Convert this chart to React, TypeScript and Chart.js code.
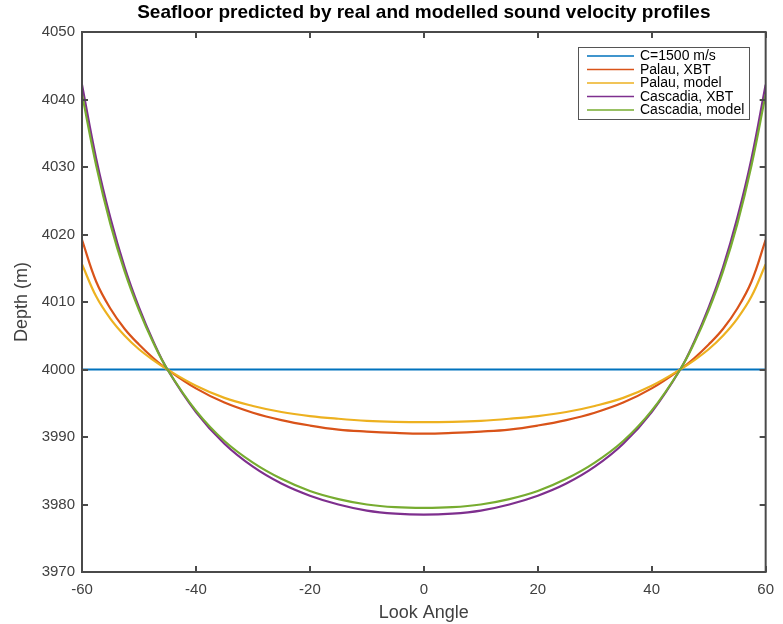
import React, { useEffect, useRef } from "react";
import { Chart, registerables } from "chart.js";

Chart.register(...registerables);

const titleText = "Seafloor predicted by real and modelled sound velocity profiles";
const xLabel = "Look Angle";
const yLabel = "Depth (m)";

const angles = [-60, -57.5, -55, -52.5, -50, -47.5, -45, -40, -35, -30, -25, -20, -15, -10, -5, 0, 5, 10, 15, 20, 25, 30, 35, 40, 45, 47.5, 50, 52.5, 55, 57.5, 60];

const constC = [4000, 4000, 4000, 4000, 4000, 4000, 4000, 4000, 4000, 4000, 4000, 4000, 4000, 4000, 4000, 4000, 4000, 4000, 4000, 4000, 4000, 4000, 4000, 4000, 4000, 4000, 4000, 4000, 4000, 4000, 4000];
const palauXBT = [4019.2, 4013.0, 4009.0, 4006.0, 4003.7, 4001.7, 4000, 3997.2, 3995.1, 3993.6, 3992.5, 3991.7, 3991.1, 3990.8, 3990.6, 3990.5, 3990.6, 3990.8, 3991.1, 3991.7, 3992.5, 3993.6, 3995.1, 3997.2, 4000, 4001.7, 4003.7, 4006.0, 4009.0, 4013.0, 4019.2];
const palauModel = [4015.6, 4010.8, 4007.5, 4005.0, 4003.0, 4001.4, 4000, 3997.6, 3995.8, 3994.6, 3993.7, 3993.1, 3992.7, 3992.4, 3992.25, 3992.2, 3992.25, 3992.4, 3992.7, 3993.1, 3993.7, 3994.6, 3995.8, 3997.6, 4000, 4001.4, 4003.0, 4005.0, 4007.5, 4010.8, 4015.6];
const cascadiaXBT = [4042.2, 4031.2, 4022.4, 4015.1, 4009.2, 4004.2, 4000, 3993.7, 3989.0, 3985.6, 3983.1, 3981.3, 3980.0, 3979.1, 3978.65, 3978.5, 3978.65, 3979.1, 3980.0, 3981.3, 3983.1, 3985.6, 3989.0, 3993.7, 4000, 4004.2, 4009.2, 4015.1, 4022.4, 4031.2, 4042.2];
const cascadiaModel = [4040.8, 4030.2, 4021.5, 4014.5, 4008.8, 4004.0, 4000, 3993.9, 3989.4, 3986.2, 3983.8, 3982.0, 3980.8, 3980.0, 3979.6, 3979.5, 3979.6, 3980.0, 3980.8, 3982.0, 3983.8, 3986.2, 3989.4, 3993.9, 4000, 4004.0, 4008.8, 4014.5, 4021.5, 4030.2, 4040.8];

const seriesNames = ["C=1500 m/s", "Palau, XBT", "Palau, model", "Cascadia, XBT", "Cascadia, model"];
const seriesValues = [constC, palauXBT, palauModel, cascadiaXBT, cascadiaModel];
const seriesColors = ["#0072BD", "#D95319", "#EDB120", "#7E2F8E", "#77AC30"];

const FONT = "'Liberation Sans', Arial, Helvetica, sans-serif";
const AXIS_COLOR = "#4a4a4a";
const TEXT_COLOR = "#404040";

const framePlugin = {
  id: "matlabFrame",
  afterDatasetsDraw(chart: any) {
    const { ctx, chartArea, scales } = chart;
    const { left, right, top, bottom } = chartArea;
    const x = scales.x;
    const y = scales.y;
    ctx.save();
    ctx.strokeStyle = AXIS_COLOR;
    ctx.lineWidth = 2;
    ctx.beginPath();
    const tl = 6;
    x.ticks.forEach((t: any) => {
      const px = Math.round(x.getPixelForValue(t.value));
      ctx.moveTo(px, bottom);
      ctx.lineTo(px, bottom - tl);
      ctx.moveTo(px, top);
      ctx.lineTo(px, top + tl);
    });
    y.ticks.forEach((t: any) => {
      const py = Math.round(y.getPixelForValue(t.value));
      ctx.moveTo(left, py);
      ctx.lineTo(left + tl, py);
      ctx.moveTo(right, py);
      ctx.lineTo(right - tl, py);
    });
    ctx.stroke();
    ctx.strokeRect(left, top, right - left, bottom - top);

    // title centred over the axes
    ctx.fillStyle = "#000000";
    ctx.font = `bold 19px ${FONT}`;
    ctx.textAlign = "center";
    ctx.textBaseline = "middle";
    ctx.fillText(titleText, (left + right) / 2, 13);

    // legend
    const bx = 578.5, by = 47.5, bw = 171, bh = 72;
    ctx.fillStyle = "#ffffff";
    ctx.fillRect(bx, by, bw, bh);
    ctx.strokeStyle = "#555555";
    ctx.lineWidth = 1;
    ctx.strokeRect(bx, by, bw, bh);
    ctx.font = `14px ${FONT}`;
    ctx.textBaseline = "middle";
    ctx.textAlign = "left";
    seriesNames.forEach((name, i) => {
      const ry = 56 + i * 13.5;
      ctx.strokeStyle = seriesColors[i];
      ctx.lineWidth = 1.5;
      ctx.beginPath();
      ctx.moveTo(587, ry);
      ctx.lineTo(634, ry);
      ctx.stroke();
      ctx.fillStyle = "#000000";
      ctx.fillText(name, 640, ry + 0.5);
    });
    ctx.restore();
  },
};

export default function App() {
  const canvasRef = useRef<HTMLCanvasElement | null>(null);

  useEffect(() => {
    document.body.style.margin = "0";
    const canvas = canvasRef.current;
    if (!canvas) return;
    const datasets = seriesNames.map((name, i) => ({
      label: name,
      data: angles.map((a, j) => ({ x: a, y: seriesValues[i][j] })),
      borderColor: seriesColors[i],
      backgroundColor: seriesColors[i],
      borderWidth: 2.2,
      pointRadius: 0,
      fill: false,
      tension: 0.4,
      order: seriesNames.length - 1 - i,
    }));
    const chart = new Chart(canvas, {
      type: "line",
      data: { datasets },
      plugins: [framePlugin],
      options: {
        animation: false,
        responsive: false,
        devicePixelRatio: 1,
        layout: { padding: { left: 0, right: 17, top: 32, bottom: 0 } },
        plugins: {
          legend: { display: false },
          tooltip: { enabled: false },
          title: { display: false },
        },
        scales: {
          x: {
            type: "linear",
            min: -60,
            max: 60,
            border: { display: false },
            grid: { display: false, drawTicks: false },
            ticks: {
              stepSize: 20,
              padding: 9,
              color: TEXT_COLOR,
              font: { family: FONT, size: 15 },
              maxRotation: 0,
              callback: (v: any) => String(v),
            },
            title: {
              display: true,
              text: xLabel,
              color: TEXT_COLOR,
              font: { family: FONT, size: 18 },
              padding: { top: 3, bottom: 0 },
            },
            afterFit(scale: any) {
              scale.height = 52;
            },
          },
          y: {
            type: "linear",
            min: 3970,
            max: 4050,
            border: { display: false },
            grid: { display: false, drawTicks: false },
            ticks: {
              stepSize: 10,
              padding: 7,
              color: TEXT_COLOR,
              font: { family: FONT, size: 15 },
              callback: (v: any) => String(v),
            },
            title: {
              display: true,
              text: yLabel,
              color: TEXT_COLOR,
              font: { family: FONT, size: 18 },
              padding: { top: 11, bottom: 0 },
            },
            afterFit(scale: any) {
              scale.width = 82;
            },
          },
        },
      },
    });
    return () => chart.destroy();
  }, []);

  return (
    <div style={{ width: 783, height: 624, background: "#ffffff" }}>
      <canvas ref={canvasRef} width={783} height={624} style={{ display: "block" }} />
    </div>
  );
}
